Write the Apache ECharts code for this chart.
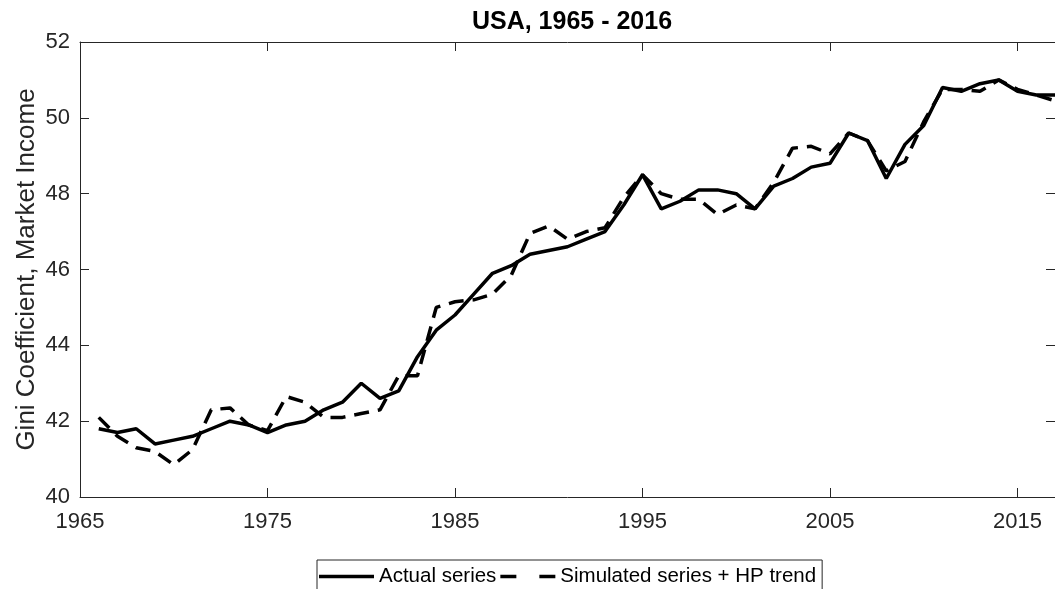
<!DOCTYPE html>
<html>
<head>
<meta charset="utf-8">
<script src="https://cdn.jsdelivr.net/npm/echarts@6.0.0/dist/echarts.min.js"></script>
<style>
  html, body { margin: 0; padding: 0; background: #fff; }
  #box { width: 1055px; height: 589px; }
</style>
</head>
<body>
<div id="box"></div>
<script>
// years on the x axis
var years = [1966, 1967, 1968, 1969, 1970, 1971, 1972, 1973, 1974, 1975,
  1976, 1977, 1978, 1979, 1980, 1981, 1982, 1983, 1984, 1985,
  1986, 1987, 1988, 1989, 1990, 1991, 1992, 1993, 1994, 1995,
  1996, 1997, 1998, 1999, 2000, 2001, 2002, 2003, 2004, 2005,
  2006, 2007, 2008, 2009, 2010, 2011, 2012, 2013, 2014, 2015,
  2016, 2017];

// Gini, actual series
var actual = [41.8, 41.7, 41.8, 41.4, 41.5, 41.6, 41.8, 42.0, 41.9, 41.7,
  41.9, 42.0, 42.3, 42.5, 43.0, 42.6, 42.8, 43.7, 44.4, 44.8,
  45.35, 45.9, 46.1, 46.4, 46.5, 46.6, 46.8, 47.0, 47.7, 48.5,
  47.6, 47.8, 48.1, 48.1, 48.0, 47.6, 48.2, 48.4, 48.7, 48.8,
  49.6, 49.4, 48.4, 49.3, 49.8, 50.8, 50.7, 50.9, 51.0, 50.7,
  50.6, 50.6];

// simulated series + HP trend
var simulated = [42.1, 41.6, 41.3, 41.2, 40.85, 41.25, 42.3, 42.35, 41.9, 41.75,
  42.65, 42.5, 42.1, 42.1, 42.2, 42.3, 43.2, 43.2, 45.0, 45.15,
  45.2, 45.35, 45.85, 46.95, 47.15, 46.8, 47.0, 47.1, 47.9, 48.5,
  48.0, 47.85, 47.85, 47.45, 47.7, 47.6, 48.3, 49.2, 49.25, 49.05,
  49.6, 49.4, 48.6, 48.85, 49.9, 50.75, 50.75, 50.7, 51.0, 50.75,
  50.6, 50.45];

var xTicks = [1965, 1975, 1985, 1995, 2005, 2015];

var font = "'Liberation Sans', Arial, Helvetica, sans-serif";
var axisColor = "#262626";

var myChart = echarts.init(document.getElementById("box"));

var tickStyle = { color: axisColor, width: 1 };

var option = {
  backgroundColor: "#fff",
  animation: false,
  title: {
    text: "USA, 1965 - 2016",
    left: 572,
    top: 10,
    textAlign: "center",
    padding: 0,
    textStyle: { fontFamily: font, fontSize: 25, fontWeight: "bold", color: "#000" }
  },
  legend: {
    left: 317,
    top: 560,
    itemWidth: 55,
    itemHeight: 3.5,
    itemGap: 4,
    padding: [6, 6, 30, 2],
    borderColor: axisColor,
    borderWidth: 1,
    textStyle: { fontFamily: font, fontSize: 20.5, color: "#000" },
    data: [
      { name: "Actual series", icon: "path://M0,0 L55,0 L55,3.5 L0,3.5 Z" },
      {
        name: "Simulated series + HP trend",
        icon: "path://M0,0 L16,0 L16,3.5 L0,3.5 Z M39,0 L55,0 L55,3.5 L39,3.5 Z"
      }
    ]
  },
  grid: {
    left: 80,
    top: 42,
    width: 983,
    height: 455
  },
  xAxis: [
    {
      type: "value",
      min: 1965,
      max: 2017,
      position: "bottom",
      axisLine: { onZero: false, lineStyle: tickStyle },
      axisTick: { inside: true, length: 9, customValues: xTicks, lineStyle: tickStyle },
      axisLabel: {
        customValues: xTicks,
        formatter: function (v) { return String(v); },
        fontFamily: font,
        fontSize: 22,
        color: axisColor,
        margin: 14
      },
      splitLine: { show: false }
    },
    {
      type: "value",
      min: 1965,
      max: 2017,
      position: "top",
      axisLine: { onZero: false, lineStyle: tickStyle },
      axisTick: { inside: true, length: 9, customValues: xTicks, lineStyle: tickStyle },
      axisLabel: { show: false },
      splitLine: { show: false }
    }
  ],
  yAxis: [
    {
      type: "value",
      min: 40,
      max: 52,
      interval: 2,
      position: "left",
      name: "Gini Coefficient, Market Income",
      nameLocation: "middle",
      nameRotate: 90,
      nameGap: 40,
      nameMoveOverlap: false,
      nameTextStyle: { fontFamily: font, fontSize: 26, color: axisColor },
      axisLine: { show: true, onZero: false, lineStyle: tickStyle },
      axisTick: { show: true, inside: true, length: 9, lineStyle: tickStyle },
      axisLabel: { fontFamily: font, fontSize: 22, color: axisColor, margin: 10 },
      splitLine: { show: false }
    },
    {
      type: "value",
      min: 40,
      max: 52,
      interval: 2,
      position: "right",
      axisLine: { show: true, onZero: false, lineStyle: tickStyle },
      axisTick: { show: true, inside: true, length: 9, lineStyle: tickStyle },
      axisLabel: { show: false },
      splitLine: { show: false }
    }
  ],
  series: [
    {
      name: "Actual series",
      type: "line",
      symbol: "none",
      color: "#000",
      lineStyle: { color: "#000", width: 3.5 },
      data: years.map(function (y, i) { return [y, actual[i]]; })
    },
    {
      name: "Simulated series + HP trend",
      type: "line",
      symbol: "none",
      color: "#000",
      lineStyle: { color: "#000", width: 3.5, type: [15, 9] },
      data: years.map(function (y, i) { return [y, simulated[i]]; })
    }
  ]
};
myChart.setOption(option);
</script>
</body>
</html>
